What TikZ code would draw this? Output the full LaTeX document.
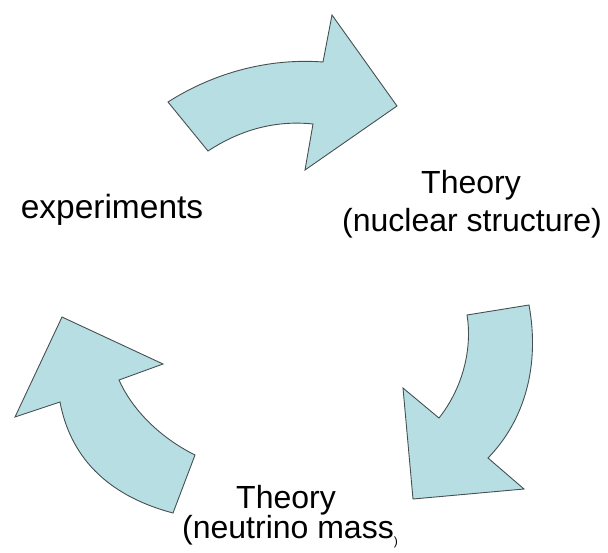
\documentclass[tikz,border=0pt]{standalone}
\usepackage{fontspec}
\setmainfont{Liberation Sans}
\definecolor{arrowfill}{RGB}{183,223,227}
\definecolor{arrowline}{RGB}{70,80,80}
\begin{document}
\begin{tikzpicture}[x=1pt,y=-1pt,
  bigarrow/.style={fill=arrowfill,draw=arrowline,line width=0.9pt,line join=miter},
  lbl/.style={anchor=base,inner sep=0pt,font=\fontsize{32}{38}\selectfont}]
\useasboundingbox (0,0) rectangle (608,552);
% top arrow
\draw[bigarrow] (168,102) .. controls (215,72) and (270,58) .. (323,62)
  -- (332,15) -- (397,106) -- (305,170) -- (313,124)
  .. controls (275,120) and (240,130) .. (208,151) -- cycle;
% right arrow
\draw[bigarrow] (467,315) -- (529,305) .. controls (540,365) and (525,420) .. (488,458)
  -- (524,489) -- (413,499) -- (403,388) -- (439,418)
  .. controls (465,385) and (472,345) .. (467,315) -- cycle;
% left arrow
\draw[bigarrow] (173,513) -- (195,455) .. controls (155,435) and (130,405) .. (119,380)
  -- (163,364) -- (62,317) -- (15,417) -- (60,402)
  .. controls (70,455) and (105,495) .. (173,513) -- cycle;
% labels
\node[lbl,font=\fontsize{33.5}{38}\selectfont] (exp) at (112,218) {experiments};
\node[lbl] (th1) at (471,193) {Theory};
\node[lbl] (th1b) at (472,231) {(nuclear structure)};
\node[lbl] (th2) at (286,508) {Theory};
\node[lbl] (th2b) at (290,538) {(neutrino mass\raisebox{-7pt}{\fontsize{12}{12}\selectfont )}};
\end{tikzpicture}
\end{document}
